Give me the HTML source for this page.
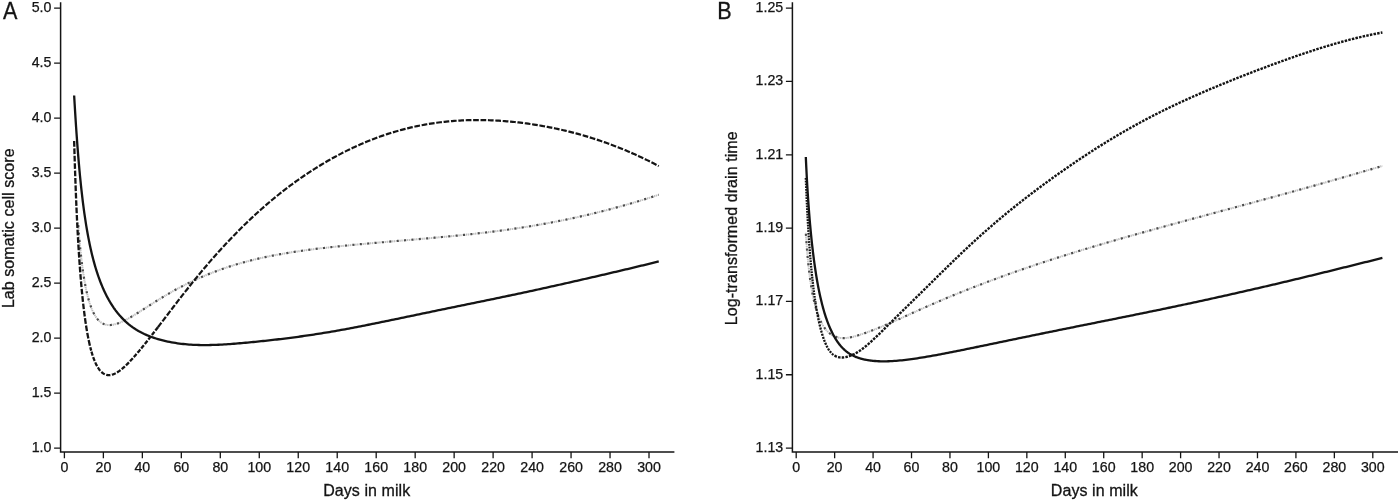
<!DOCTYPE html>
<html lang="en"><head><meta charset="utf-8"><title>Figure</title>
<style>html,body{margin:0;padding:0;background:#fff}body{width:1400px;height:501px;overflow:hidden}svg{display:block}text{stroke:#141414;stroke-width:.3px;font-family:"Liberation Sans",Arial,Helvetica,sans-serif;fill:#141414}.t{font-size:14.2px;stroke-width:.25px}.ax{font-size:16px;letter-spacing:.07px;stroke-width:.3px}.pl{font-size:24px}.l{stroke:#141414;fill:none}</style></head><body>
<svg width="1400" height="501" viewBox="0 0 1400 501">
<rect width="1400" height="501" fill="#fff"/>
<path class="l" stroke-width="1.5" d="M60.6 2.2 V452.1 H674.4"/>
<path class="l" stroke-width="1.3" d="M54.1 448.10 H60.6 M54.1 393.10 H60.6 M54.1 338.10 H60.6 M54.1 283.10 H60.6 M54.1 228.10 H60.6 M54.1 173.10 H60.6 M54.1 118.10 H60.6 M54.1 63.10 H60.6 M54.1 8.10 H60.6 M64.40 452.1 V458.2 M103.37 452.1 V458.2 M142.35 452.1 V458.2 M181.32 452.1 V458.2 M220.30 452.1 V458.2 M259.27 452.1 V458.2 M298.24 452.1 V458.2 M337.22 452.1 V458.2 M376.19 452.1 V458.2 M415.17 452.1 V458.2 M454.14 452.1 V458.2 M493.11 452.1 V458.2 M532.09 452.1 V458.2 M571.06 452.1 V458.2 M610.04 452.1 V458.2 M649.01 452.1 V458.2"/>
<text class="t" x="51.4" y="451.8" text-anchor="end">1.0</text>
<text class="t" x="51.4" y="396.8" text-anchor="end">1.5</text>
<text class="t" x="51.4" y="341.8" text-anchor="end">2.0</text>
<text class="t" x="51.4" y="286.8" text-anchor="end">2.5</text>
<text class="t" x="51.4" y="231.8" text-anchor="end">3.0</text>
<text class="t" x="51.4" y="176.8" text-anchor="end">3.5</text>
<text class="t" x="51.4" y="121.8" text-anchor="end">4.0</text>
<text class="t" x="51.4" y="66.8" text-anchor="end">4.5</text>
<text class="t" x="51.4" y="11.8" text-anchor="end">5.0</text>
<text class="t" x="64.4" y="472.3" text-anchor="middle">0</text>
<text class="t" x="103.4" y="472.3" text-anchor="middle">20</text>
<text class="t" x="142.3" y="472.3" text-anchor="middle">40</text>
<text class="t" x="181.3" y="472.3" text-anchor="middle">60</text>
<text class="t" x="220.3" y="472.3" text-anchor="middle">80</text>
<text class="t" x="259.3" y="472.3" text-anchor="middle">100</text>
<text class="t" x="298.2" y="472.3" text-anchor="middle">120</text>
<text class="t" x="337.2" y="472.3" text-anchor="middle">140</text>
<text class="t" x="376.2" y="472.3" text-anchor="middle">160</text>
<text class="t" x="415.2" y="472.3" text-anchor="middle">180</text>
<text class="t" x="454.1" y="472.3" text-anchor="middle">200</text>
<text class="t" x="493.1" y="472.3" text-anchor="middle">220</text>
<text class="t" x="532.1" y="472.3" text-anchor="middle">240</text>
<text class="t" x="571.1" y="472.3" text-anchor="middle">260</text>
<text class="t" x="610.0" y="472.3" text-anchor="middle">280</text>
<text class="t" x="649.0" y="472.3" text-anchor="middle">300</text>
<text class="ax" x="366.7" y="495.6" text-anchor="middle">Days in milk</text>
<text class="ax" transform="translate(14 228.2) rotate(-90)" text-anchor="middle">Lab somatic cell score</text>
<text class="pl" transform="translate(3.0 18.7) scale(0.9 1)">A</text>
<path class="l" stroke-width="1.5" d="M792.4 2.2 V452.1 H1398"/>
<path class="l" stroke-width="1.3" d="M785.9 448.10 H792.4 M785.9 374.77 H792.4 M785.9 301.44 H792.4 M785.9 228.11 H792.4 M785.9 154.78 H792.4 M785.9 81.45 H792.4 M785.9 8.12 H792.4 M796.20 452.1 V458.2 M834.64 452.1 V458.2 M873.08 452.1 V458.2 M911.52 452.1 V458.2 M949.96 452.1 V458.2 M988.40 452.1 V458.2 M1026.84 452.1 V458.2 M1065.28 452.1 V458.2 M1103.72 452.1 V458.2 M1142.16 452.1 V458.2 M1180.60 452.1 V458.2 M1219.04 452.1 V458.2 M1257.48 452.1 V458.2 M1295.92 452.1 V458.2 M1334.36 452.1 V458.2 M1372.80 452.1 V458.2"/>
<text class="t" x="783.2" y="451.8" text-anchor="end">1.13</text>
<text class="t" x="783.2" y="378.5" text-anchor="end">1.15</text>
<text class="t" x="783.2" y="305.1" text-anchor="end">1.17</text>
<text class="t" x="783.2" y="231.8" text-anchor="end">1.19</text>
<text class="t" x="783.2" y="158.5" text-anchor="end">1.21</text>
<text class="t" x="783.2" y="85.2" text-anchor="end">1.23</text>
<text class="t" x="783.2" y="11.8" text-anchor="end">1.25</text>
<text class="t" x="796.2" y="472.3" text-anchor="middle">0</text>
<text class="t" x="834.6" y="472.3" text-anchor="middle">20</text>
<text class="t" x="873.1" y="472.3" text-anchor="middle">40</text>
<text class="t" x="911.5" y="472.3" text-anchor="middle">60</text>
<text class="t" x="950.0" y="472.3" text-anchor="middle">80</text>
<text class="t" x="988.4" y="472.3" text-anchor="middle">100</text>
<text class="t" x="1026.8" y="472.3" text-anchor="middle">120</text>
<text class="t" x="1065.3" y="472.3" text-anchor="middle">140</text>
<text class="t" x="1103.7" y="472.3" text-anchor="middle">160</text>
<text class="t" x="1142.2" y="472.3" text-anchor="middle">180</text>
<text class="t" x="1180.6" y="472.3" text-anchor="middle">200</text>
<text class="t" x="1219.0" y="472.3" text-anchor="middle">220</text>
<text class="t" x="1257.5" y="472.3" text-anchor="middle">240</text>
<text class="t" x="1295.9" y="472.3" text-anchor="middle">260</text>
<text class="t" x="1334.4" y="472.3" text-anchor="middle">280</text>
<text class="t" x="1372.8" y="472.3" text-anchor="middle">300</text>
<text class="ax" x="1094.4" y="495.6" text-anchor="middle">Days in milk</text>
<text class="ax" transform="translate(737.4 228.3) rotate(-90)" text-anchor="middle">Log-transformed drain time</text>
<text class="pl" transform="translate(717.3 18.7) scale(0.9 1)">B</text>
<path d="M78.04 222.69 L78.53 229.15 L79.02 235.15 L79.50 240.73 L79.99 245.94 L80.48 250.80 L80.96 255.34 L81.45 259.59 L81.94 263.58 L82.43 267.32 L82.91 270.84 L83.40 274.15 L83.89 277.26 L84.37 280.19 L84.86 282.95 L85.35 285.56 L85.84 288.02 L86.32 290.34 L86.81 292.53 L87.30 294.60 L87.78 296.55 L88.27 298.40 L88.76 300.14 L89.25 301.79 L89.73 303.35 L90.22 304.82 L90.71 306.22 L91.19 307.53 L91.68 308.78 L92.17 309.95 L92.66 311.06 L93.14 312.10 L93.63 313.09 L94.12 314.02 L94.60 314.90 L95.09 315.72 L95.58 316.50 L96.07 317.23 L96.55 317.91 L97.04 318.56 L97.53 319.16 L98.02 319.72 L98.50 320.25 L98.99 320.74 L99.48 321.20 L99.96 321.62 L100.45 322.01 L100.94 322.38 L101.43 322.71 L101.91 323.02 L102.40 323.30 L102.89 323.56 L103.37 323.79 L103.86 324.00 L104.35 324.19 L104.84 324.36 L105.32 324.50 L105.81 324.63 L106.30 324.74 L106.78 324.83 L107.27 324.91 L107.76 324.96 L108.25 325.01 L108.73 325.03 L109.22 325.04 L109.71 325.04 L110.19 325.03 L110.68 325.00 L111.17 324.96 L111.66 324.91 L112.14 324.85 L112.63 324.77 L113.12 324.69 L113.60 324.59 L114.09 324.49 L114.58 324.38 L115.07 324.25 L115.55 324.12 L116.04 323.98 L116.53 323.84 L117.01 323.68 L117.50 323.52 L117.99 323.35 L118.48 323.17 L118.96 322.99 L119.45 322.80 L119.94 322.61 L120.43 322.41 L120.91 322.20 L121.40 321.99 L121.89 321.77 L122.37 321.55 L122.86 321.32 L123.35 321.09 L123.84 320.86 L124.32 320.62 L124.81 320.37 L125.30 320.12 L125.78 319.87 L126.27 319.62 L126.76 319.36 L127.25 319.10 L127.73 318.83 L128.22 318.56 L128.71 318.29 L129.19 318.02 L129.68 317.74 L130.17 317.46 L130.66 317.18 L131.14 316.90 L131.63 316.61 L132.12 316.33 L132.60 316.04 L133.09 315.74 L133.58 315.45 L134.07 315.16 L134.55 314.86 L135.04 314.56 L135.53 314.26 L136.01 313.96 L136.50 313.66 L136.99 313.35 L137.48 313.05 L137.96 312.74 L138.45 312.44 L138.94 312.13 L139.42 311.82 L139.91 311.52 L140.40 311.21 L140.89 310.90 L141.37 310.59 L141.86 310.28 L142.35 309.96 L144.30 308.72 L146.25 307.47 L148.19 306.22 L150.14 304.98 L152.09 303.74 L154.04 302.51 L155.99 301.29 L157.94 300.08 L159.89 298.88 L161.84 297.69 L163.78 296.52 L165.73 295.37 L167.68 294.23 L169.63 293.11 L171.58 292.00 L173.53 290.91 L175.48 289.83 L177.42 288.77 L179.37 287.73 L181.32 286.71 L183.27 285.70 L185.22 284.71 L187.17 283.74 L189.12 282.78 L191.07 281.84 L193.01 280.92 L194.96 280.02 L196.91 279.13 L198.86 278.25 L200.81 277.40 L202.76 276.56 L204.71 275.73 L206.66 274.92 L208.60 274.13 L210.55 273.35 L212.50 272.59 L214.45 271.84 L216.40 271.10 L218.35 270.39 L220.30 269.68 L222.24 269.00 L224.19 268.32 L226.14 267.66 L228.09 267.02 L230.04 266.39 L231.99 265.77 L233.94 265.16 L235.89 264.57 L237.83 263.99 L239.78 263.43 L241.73 262.88 L243.68 262.34 L245.63 261.81 L247.58 261.29 L249.53 260.79 L251.48 260.29 L253.42 259.81 L255.37 259.34 L257.32 258.88 L259.27 258.43 L261.22 257.99 L263.17 257.57 L265.12 257.15 L267.06 256.74 L269.01 256.34 L270.96 255.95 L272.91 255.57 L274.86 255.19 L276.81 254.83 L278.76 254.47 L280.71 254.12 L282.65 253.78 L284.60 253.45 L286.55 253.12 L288.50 252.80 L290.45 252.49 L292.40 252.18 L294.35 251.88 L296.30 251.59 L298.24 251.30 L300.19 251.02 L302.14 250.74 L304.09 250.47 L306.04 250.20 L307.99 249.94 L309.94 249.68 L311.88 249.43 L313.83 249.18 L315.78 248.94 L317.73 248.70 L319.68 248.47 L321.63 248.23 L323.58 248.01 L325.53 247.78 L327.47 247.56 L329.42 247.34 L331.37 247.13 L333.32 246.92 L335.27 246.71 L337.22 246.50 L339.17 246.30 L341.12 246.09 L343.06 245.89 L345.01 245.70 L346.96 245.50 L348.91 245.31 L350.86 245.12 L352.81 244.93 L354.76 244.74 L356.71 244.56 L358.65 244.37 L360.60 244.19 L362.55 244.01 L364.50 243.83 L366.45 243.65 L368.40 243.48 L370.35 243.30 L372.29 243.13 L374.24 242.95 L376.19 242.78 L378.14 242.61 L380.09 242.44 L382.04 242.27 L383.99 242.10 L385.94 241.93 L387.88 241.76 L389.83 241.60 L391.78 241.43 L393.73 241.26 L395.68 241.10 L397.63 240.93 L399.58 240.76 L401.53 240.60 L403.47 240.43 L405.42 240.27 L407.37 240.10 L409.32 239.93 L411.27 239.77 L413.22 239.60 L415.17 239.43 L417.11 239.26 L419.06 239.09 L421.01 238.92 L422.96 238.76 L424.91 238.58 L426.86 238.41 L428.81 238.24 L430.76 238.07 L432.70 237.89 L434.65 237.72 L436.60 237.54 L438.55 237.36 L440.50 237.18 L442.45 237.00 L444.40 236.82 L446.35 236.64 L448.29 236.45 L450.24 236.27 L452.19 236.08 L454.14 235.89 L456.09 235.70 L458.04 235.50 L459.99 235.31 L461.93 235.11 L463.88 234.91 L465.83 234.70 L467.78 234.50 L469.73 234.29 L471.68 234.08 L473.63 233.87 L475.58 233.65 L477.52 233.43 L479.47 233.21 L481.42 232.99 L483.37 232.76 L485.32 232.53 L487.27 232.29 L489.22 232.06 L491.17 231.82 L493.11 231.57 L495.06 231.33 L497.01 231.08 L498.96 230.82 L500.91 230.57 L502.86 230.30 L504.81 230.04 L506.75 229.77 L508.70 229.50 L510.65 229.22 L512.60 228.95 L514.55 228.66 L516.50 228.37 L518.45 228.08 L520.40 227.79 L522.34 227.49 L524.29 227.18 L526.24 226.88 L528.19 226.56 L530.14 226.25 L532.09 225.93 L534.04 225.60 L535.99 225.27 L537.93 224.94 L539.88 224.60 L541.83 224.25 L543.78 223.91 L545.73 223.55 L547.68 223.20 L549.63 222.83 L551.58 222.47 L553.52 222.09 L555.47 221.72 L557.42 221.34 L559.37 220.95 L561.32 220.56 L563.27 220.17 L565.22 219.77 L567.16 219.36 L569.11 218.95 L571.06 218.54 L573.01 218.12 L574.96 217.70 L576.91 217.27 L578.86 216.83 L580.81 216.40 L582.75 215.95 L584.70 215.51 L586.65 215.05 L588.60 214.60 L590.55 214.13 L592.50 213.67 L594.45 213.19 L596.40 212.72 L598.34 212.23 L600.29 211.75 L602.24 211.26 L604.19 210.76 L606.14 210.26 L608.09 209.75 L610.04 209.24 L611.98 208.72 L613.93 208.20 L615.88 207.67 L617.83 207.14 L619.78 206.60 L621.73 206.06 L623.68 205.51 L625.63 204.96 L627.57 204.40 L629.52 203.84 L631.47 203.27 L633.42 202.69 L635.37 202.11 L637.32 201.53 L639.27 200.94 L641.22 200.34 L643.16 199.74 L645.11 199.14 L647.06 198.53 L649.01 197.91 L650.96 197.29 L652.91 196.66 L654.86 196.03 L656.80 195.39 L658.75 194.74" fill="none" stroke="#e9e9e9" stroke-width="1.8"/>
<path d="M78.04 222.69 L78.53 229.15 L79.02 235.15 L79.50 240.73 L79.99 245.94 L80.48 250.80 L80.96 255.34 L81.45 259.59 L81.94 263.58 L82.43 267.32 L82.91 270.84 L83.40 274.15 L83.89 277.26 L84.37 280.19 L84.86 282.95 L85.35 285.56 L85.84 288.02 L86.32 290.34 L86.81 292.53 L87.30 294.60 L87.78 296.55 L88.27 298.40 L88.76 300.14 L89.25 301.79 L89.73 303.35 L90.22 304.82 L90.71 306.22 L91.19 307.53 L91.68 308.78 L92.17 309.95 L92.66 311.06 L93.14 312.10 L93.63 313.09 L94.12 314.02 L94.60 314.90 L95.09 315.72 L95.58 316.50 L96.07 317.23 L96.55 317.91 L97.04 318.56 L97.53 319.16 L98.02 319.72 L98.50 320.25 L98.99 320.74 L99.48 321.20 L99.96 321.62 L100.45 322.01 L100.94 322.38 L101.43 322.71 L101.91 323.02 L102.40 323.30 L102.89 323.56 L103.37 323.79 L103.86 324.00 L104.35 324.19 L104.84 324.36 L105.32 324.50 L105.81 324.63 L106.30 324.74 L106.78 324.83 L107.27 324.91 L107.76 324.96 L108.25 325.01 L108.73 325.03 L109.22 325.04 L109.71 325.04 L110.19 325.03 L110.68 325.00 L111.17 324.96 L111.66 324.91 L112.14 324.85 L112.63 324.77 L113.12 324.69 L113.60 324.59 L114.09 324.49 L114.58 324.38 L115.07 324.25 L115.55 324.12 L116.04 323.98 L116.53 323.84 L117.01 323.68 L117.50 323.52 L117.99 323.35 L118.48 323.17 L118.96 322.99 L119.45 322.80 L119.94 322.61 L120.43 322.41 L120.91 322.20 L121.40 321.99 L121.89 321.77 L122.37 321.55 L122.86 321.32 L123.35 321.09 L123.84 320.86 L124.32 320.62 L124.81 320.37 L125.30 320.12 L125.78 319.87 L126.27 319.62 L126.76 319.36 L127.25 319.10 L127.73 318.83 L128.22 318.56 L128.71 318.29 L129.19 318.02 L129.68 317.74 L130.17 317.46 L130.66 317.18 L131.14 316.90 L131.63 316.61 L132.12 316.33 L132.60 316.04 L133.09 315.74 L133.58 315.45 L134.07 315.16 L134.55 314.86 L135.04 314.56 L135.53 314.26 L136.01 313.96 L136.50 313.66 L136.99 313.35 L137.48 313.05 L137.96 312.74 L138.45 312.44 L138.94 312.13 L139.42 311.82 L139.91 311.52 L140.40 311.21 L140.89 310.90 L141.37 310.59 L141.86 310.28 L142.35 309.96 L144.30 308.72 L146.25 307.47 L148.19 306.22 L150.14 304.98 L152.09 303.74 L154.04 302.51 L155.99 301.29 L157.94 300.08 L159.89 298.88 L161.84 297.69 L163.78 296.52 L165.73 295.37 L167.68 294.23 L169.63 293.11 L171.58 292.00 L173.53 290.91 L175.48 289.83 L177.42 288.77 L179.37 287.73 L181.32 286.71 L183.27 285.70 L185.22 284.71 L187.17 283.74 L189.12 282.78 L191.07 281.84 L193.01 280.92 L194.96 280.02 L196.91 279.13 L198.86 278.25 L200.81 277.40 L202.76 276.56 L204.71 275.73 L206.66 274.92 L208.60 274.13 L210.55 273.35 L212.50 272.59 L214.45 271.84 L216.40 271.10 L218.35 270.39 L220.30 269.68 L222.24 269.00 L224.19 268.32 L226.14 267.66 L228.09 267.02 L230.04 266.39 L231.99 265.77 L233.94 265.16 L235.89 264.57 L237.83 263.99 L239.78 263.43 L241.73 262.88 L243.68 262.34 L245.63 261.81 L247.58 261.29 L249.53 260.79 L251.48 260.29 L253.42 259.81 L255.37 259.34 L257.32 258.88 L259.27 258.43 L261.22 257.99 L263.17 257.57 L265.12 257.15 L267.06 256.74 L269.01 256.34 L270.96 255.95 L272.91 255.57 L274.86 255.19 L276.81 254.83 L278.76 254.47 L280.71 254.12 L282.65 253.78 L284.60 253.45 L286.55 253.12 L288.50 252.80 L290.45 252.49 L292.40 252.18 L294.35 251.88 L296.30 251.59 L298.24 251.30 L300.19 251.02 L302.14 250.74 L304.09 250.47 L306.04 250.20 L307.99 249.94 L309.94 249.68 L311.88 249.43 L313.83 249.18 L315.78 248.94 L317.73 248.70 L319.68 248.47 L321.63 248.23 L323.58 248.01 L325.53 247.78 L327.47 247.56 L329.42 247.34 L331.37 247.13 L333.32 246.92 L335.27 246.71 L337.22 246.50 L339.17 246.30 L341.12 246.09 L343.06 245.89 L345.01 245.70 L346.96 245.50 L348.91 245.31 L350.86 245.12 L352.81 244.93 L354.76 244.74 L356.71 244.56 L358.65 244.37 L360.60 244.19 L362.55 244.01 L364.50 243.83 L366.45 243.65 L368.40 243.48 L370.35 243.30 L372.29 243.13 L374.24 242.95 L376.19 242.78 L378.14 242.61 L380.09 242.44 L382.04 242.27 L383.99 242.10 L385.94 241.93 L387.88 241.76 L389.83 241.60 L391.78 241.43 L393.73 241.26 L395.68 241.10 L397.63 240.93 L399.58 240.76 L401.53 240.60 L403.47 240.43 L405.42 240.27 L407.37 240.10 L409.32 239.93 L411.27 239.77 L413.22 239.60 L415.17 239.43 L417.11 239.26 L419.06 239.09 L421.01 238.92 L422.96 238.76 L424.91 238.58 L426.86 238.41 L428.81 238.24 L430.76 238.07 L432.70 237.89 L434.65 237.72 L436.60 237.54 L438.55 237.36 L440.50 237.18 L442.45 237.00 L444.40 236.82 L446.35 236.64 L448.29 236.45 L450.24 236.27 L452.19 236.08 L454.14 235.89 L456.09 235.70 L458.04 235.50 L459.99 235.31 L461.93 235.11 L463.88 234.91 L465.83 234.70 L467.78 234.50 L469.73 234.29 L471.68 234.08 L473.63 233.87 L475.58 233.65 L477.52 233.43 L479.47 233.21 L481.42 232.99 L483.37 232.76 L485.32 232.53 L487.27 232.29 L489.22 232.06 L491.17 231.82 L493.11 231.57 L495.06 231.33 L497.01 231.08 L498.96 230.82 L500.91 230.57 L502.86 230.30 L504.81 230.04 L506.75 229.77 L508.70 229.50 L510.65 229.22 L512.60 228.95 L514.55 228.66 L516.50 228.37 L518.45 228.08 L520.40 227.79 L522.34 227.49 L524.29 227.18 L526.24 226.88 L528.19 226.56 L530.14 226.25 L532.09 225.93 L534.04 225.60 L535.99 225.27 L537.93 224.94 L539.88 224.60 L541.83 224.25 L543.78 223.91 L545.73 223.55 L547.68 223.20 L549.63 222.83 L551.58 222.47 L553.52 222.09 L555.47 221.72 L557.42 221.34 L559.37 220.95 L561.32 220.56 L563.27 220.17 L565.22 219.77 L567.16 219.36 L569.11 218.95 L571.06 218.54 L573.01 218.12 L574.96 217.70 L576.91 217.27 L578.86 216.83 L580.81 216.40 L582.75 215.95 L584.70 215.51 L586.65 215.05 L588.60 214.60 L590.55 214.13 L592.50 213.67 L594.45 213.19 L596.40 212.72 L598.34 212.23 L600.29 211.75 L602.24 211.26 L604.19 210.76 L606.14 210.26 L608.09 209.75 L610.04 209.24 L611.98 208.72 L613.93 208.20 L615.88 207.67 L617.83 207.14 L619.78 206.60 L621.73 206.06 L623.68 205.51 L625.63 204.96 L627.57 204.40 L629.52 203.84 L631.47 203.27 L633.42 202.69 L635.37 202.11 L637.32 201.53 L639.27 200.94 L641.22 200.34 L643.16 199.74 L645.11 199.14 L647.06 198.53 L649.01 197.91 L650.96 197.29 L652.91 196.66 L654.86 196.03 L656.80 195.39 L658.75 194.74" fill="none" stroke="#b4b4b4" stroke-width="2" stroke-dasharray="0.8 1.1 0.8 4.7" stroke-dashoffset="-5.60"/>
<path d="M78.04 222.69 L78.53 229.15 L79.02 235.15 L79.50 240.73 L79.99 245.94 L80.48 250.80 L80.96 255.34 L81.45 259.59 L81.94 263.58 L82.43 267.32 L82.91 270.84 L83.40 274.15 L83.89 277.26 L84.37 280.19 L84.86 282.95 L85.35 285.56 L85.84 288.02 L86.32 290.34 L86.81 292.53 L87.30 294.60 L87.78 296.55 L88.27 298.40 L88.76 300.14 L89.25 301.79 L89.73 303.35 L90.22 304.82 L90.71 306.22 L91.19 307.53 L91.68 308.78 L92.17 309.95 L92.66 311.06 L93.14 312.10 L93.63 313.09 L94.12 314.02 L94.60 314.90 L95.09 315.72 L95.58 316.50 L96.07 317.23 L96.55 317.91 L97.04 318.56 L97.53 319.16 L98.02 319.72 L98.50 320.25 L98.99 320.74 L99.48 321.20 L99.96 321.62 L100.45 322.01 L100.94 322.38 L101.43 322.71 L101.91 323.02 L102.40 323.30 L102.89 323.56 L103.37 323.79 L103.86 324.00 L104.35 324.19 L104.84 324.36 L105.32 324.50 L105.81 324.63 L106.30 324.74 L106.78 324.83 L107.27 324.91 L107.76 324.96 L108.25 325.01 L108.73 325.03 L109.22 325.04 L109.71 325.04 L110.19 325.03 L110.68 325.00 L111.17 324.96 L111.66 324.91 L112.14 324.85 L112.63 324.77 L113.12 324.69 L113.60 324.59 L114.09 324.49 L114.58 324.38 L115.07 324.25 L115.55 324.12 L116.04 323.98 L116.53 323.84 L117.01 323.68 L117.50 323.52 L117.99 323.35 L118.48 323.17 L118.96 322.99 L119.45 322.80 L119.94 322.61 L120.43 322.41 L120.91 322.20 L121.40 321.99 L121.89 321.77 L122.37 321.55 L122.86 321.32 L123.35 321.09 L123.84 320.86 L124.32 320.62 L124.81 320.37 L125.30 320.12 L125.78 319.87 L126.27 319.62 L126.76 319.36 L127.25 319.10 L127.73 318.83 L128.22 318.56 L128.71 318.29 L129.19 318.02 L129.68 317.74 L130.17 317.46 L130.66 317.18 L131.14 316.90 L131.63 316.61 L132.12 316.33 L132.60 316.04 L133.09 315.74 L133.58 315.45 L134.07 315.16 L134.55 314.86 L135.04 314.56 L135.53 314.26 L136.01 313.96 L136.50 313.66 L136.99 313.35 L137.48 313.05 L137.96 312.74 L138.45 312.44 L138.94 312.13 L139.42 311.82 L139.91 311.52 L140.40 311.21 L140.89 310.90 L141.37 310.59 L141.86 310.28 L142.35 309.96 L144.30 308.72 L146.25 307.47 L148.19 306.22 L150.14 304.98 L152.09 303.74 L154.04 302.51 L155.99 301.29 L157.94 300.08 L159.89 298.88 L161.84 297.69 L163.78 296.52 L165.73 295.37 L167.68 294.23 L169.63 293.11 L171.58 292.00 L173.53 290.91 L175.48 289.83 L177.42 288.77 L179.37 287.73 L181.32 286.71 L183.27 285.70 L185.22 284.71 L187.17 283.74 L189.12 282.78 L191.07 281.84 L193.01 280.92 L194.96 280.02 L196.91 279.13 L198.86 278.25 L200.81 277.40 L202.76 276.56 L204.71 275.73 L206.66 274.92 L208.60 274.13 L210.55 273.35 L212.50 272.59 L214.45 271.84 L216.40 271.10 L218.35 270.39 L220.30 269.68 L222.24 269.00 L224.19 268.32 L226.14 267.66 L228.09 267.02 L230.04 266.39 L231.99 265.77 L233.94 265.16 L235.89 264.57 L237.83 263.99 L239.78 263.43 L241.73 262.88 L243.68 262.34 L245.63 261.81 L247.58 261.29 L249.53 260.79 L251.48 260.29 L253.42 259.81 L255.37 259.34 L257.32 258.88 L259.27 258.43 L261.22 257.99 L263.17 257.57 L265.12 257.15 L267.06 256.74 L269.01 256.34 L270.96 255.95 L272.91 255.57 L274.86 255.19 L276.81 254.83 L278.76 254.47 L280.71 254.12 L282.65 253.78 L284.60 253.45 L286.55 253.12 L288.50 252.80 L290.45 252.49 L292.40 252.18 L294.35 251.88 L296.30 251.59 L298.24 251.30 L300.19 251.02 L302.14 250.74 L304.09 250.47 L306.04 250.20 L307.99 249.94 L309.94 249.68 L311.88 249.43 L313.83 249.18 L315.78 248.94 L317.73 248.70 L319.68 248.47 L321.63 248.23 L323.58 248.01 L325.53 247.78 L327.47 247.56 L329.42 247.34 L331.37 247.13 L333.32 246.92 L335.27 246.71 L337.22 246.50 L339.17 246.30 L341.12 246.09 L343.06 245.89 L345.01 245.70 L346.96 245.50 L348.91 245.31 L350.86 245.12 L352.81 244.93 L354.76 244.74 L356.71 244.56 L358.65 244.37 L360.60 244.19 L362.55 244.01 L364.50 243.83 L366.45 243.65 L368.40 243.48 L370.35 243.30 L372.29 243.13 L374.24 242.95 L376.19 242.78 L378.14 242.61 L380.09 242.44 L382.04 242.27 L383.99 242.10 L385.94 241.93 L387.88 241.76 L389.83 241.60 L391.78 241.43 L393.73 241.26 L395.68 241.10 L397.63 240.93 L399.58 240.76 L401.53 240.60 L403.47 240.43 L405.42 240.27 L407.37 240.10 L409.32 239.93 L411.27 239.77 L413.22 239.60 L415.17 239.43 L417.11 239.26 L419.06 239.09 L421.01 238.92 L422.96 238.76 L424.91 238.58 L426.86 238.41 L428.81 238.24 L430.76 238.07 L432.70 237.89 L434.65 237.72 L436.60 237.54 L438.55 237.36 L440.50 237.18 L442.45 237.00 L444.40 236.82 L446.35 236.64 L448.29 236.45 L450.24 236.27 L452.19 236.08 L454.14 235.89 L456.09 235.70 L458.04 235.50 L459.99 235.31 L461.93 235.11 L463.88 234.91 L465.83 234.70 L467.78 234.50 L469.73 234.29 L471.68 234.08 L473.63 233.87 L475.58 233.65 L477.52 233.43 L479.47 233.21 L481.42 232.99 L483.37 232.76 L485.32 232.53 L487.27 232.29 L489.22 232.06 L491.17 231.82 L493.11 231.57 L495.06 231.33 L497.01 231.08 L498.96 230.82 L500.91 230.57 L502.86 230.30 L504.81 230.04 L506.75 229.77 L508.70 229.50 L510.65 229.22 L512.60 228.95 L514.55 228.66 L516.50 228.37 L518.45 228.08 L520.40 227.79 L522.34 227.49 L524.29 227.18 L526.24 226.88 L528.19 226.56 L530.14 226.25 L532.09 225.93 L534.04 225.60 L535.99 225.27 L537.93 224.94 L539.88 224.60 L541.83 224.25 L543.78 223.91 L545.73 223.55 L547.68 223.20 L549.63 222.83 L551.58 222.47 L553.52 222.09 L555.47 221.72 L557.42 221.34 L559.37 220.95 L561.32 220.56 L563.27 220.17 L565.22 219.77 L567.16 219.36 L569.11 218.95 L571.06 218.54 L573.01 218.12 L574.96 217.70 L576.91 217.27 L578.86 216.83 L580.81 216.40 L582.75 215.95 L584.70 215.51 L586.65 215.05 L588.60 214.60 L590.55 214.13 L592.50 213.67 L594.45 213.19 L596.40 212.72 L598.34 212.23 L600.29 211.75 L602.24 211.26 L604.19 210.76 L606.14 210.26 L608.09 209.75 L610.04 209.24 L611.98 208.72 L613.93 208.20 L615.88 207.67 L617.83 207.14 L619.78 206.60 L621.73 206.06 L623.68 205.51 L625.63 204.96 L627.57 204.40 L629.52 203.84 L631.47 203.27 L633.42 202.69 L635.37 202.11 L637.32 201.53 L639.27 200.94 L641.22 200.34 L643.16 199.74 L645.11 199.14 L647.06 198.53 L649.01 197.91 L650.96 197.29 L652.91 196.66 L654.86 196.03 L656.80 195.39 L658.75 194.74" fill="none" stroke="#4c4c4c" stroke-width="2.2" stroke-dasharray="2.1 5.3" stroke-dashoffset="-2.50"/>
<path class="l" d="M74.14 95.50 L74.63 103.80 L75.12 111.83 L75.61 119.56 L76.09 126.99 L76.58 134.11 L77.07 140.91 L77.55 147.41 L78.04 153.62 L78.53 159.55 L79.02 165.20 L79.50 170.60 L79.99 175.76 L80.48 180.69 L80.96 185.41 L81.45 189.92 L81.94 194.24 L82.43 198.38 L82.91 202.35 L83.40 206.15 L83.89 209.81 L84.37 213.32 L84.86 216.70 L85.35 219.94 L85.84 223.07 L86.32 226.08 L86.81 228.99 L87.30 231.79 L87.78 234.49 L88.27 237.10 L88.76 239.62 L89.25 242.06 L89.73 244.42 L90.22 246.71 L90.71 248.92 L91.19 251.07 L91.68 253.14 L92.17 255.16 L92.66 257.12 L93.14 259.02 L93.63 260.86 L94.12 262.65 L94.60 264.39 L95.09 266.09 L95.58 267.74 L96.07 269.34 L96.55 270.90 L97.04 272.42 L97.53 273.90 L98.02 275.34 L98.50 276.75 L98.99 278.12 L99.48 279.46 L99.96 280.76 L100.45 282.04 L100.94 283.28 L101.43 284.49 L101.91 285.68 L102.40 286.84 L102.89 287.97 L103.37 289.08 L103.86 290.16 L104.35 291.21 L104.84 292.25 L105.32 293.26 L105.81 294.25 L106.30 295.22 L106.78 296.17 L107.27 297.09 L107.76 298.00 L108.25 298.89 L108.73 299.77 L109.22 300.62 L109.71 301.46 L110.19 302.28 L110.68 303.08 L111.17 303.87 L111.66 304.64 L112.14 305.40 L112.63 306.14 L113.12 306.87 L113.60 307.59 L114.09 308.29 L114.58 308.98 L115.07 309.65 L115.55 310.32 L116.04 310.97 L116.53 311.60 L117.01 312.23 L117.50 312.85 L117.99 313.45 L118.48 314.04 L118.96 314.62 L119.45 315.19 L119.94 315.75 L120.43 316.30 L120.91 316.84 L121.40 317.37 L121.89 317.90 L122.37 318.41 L122.86 318.91 L123.35 319.40 L123.84 319.89 L124.32 320.36 L124.81 320.83 L125.30 321.29 L125.78 321.74 L126.27 322.18 L126.76 322.61 L127.25 323.04 L127.73 323.46 L128.22 323.87 L128.71 324.27 L129.19 324.67 L129.68 325.06 L130.17 325.44 L130.66 325.81 L131.14 326.18 L131.63 326.54 L132.12 326.90 L132.60 327.25 L133.09 327.59 L133.58 327.93 L134.07 328.26 L134.55 328.58 L135.04 328.90 L135.53 329.21 L136.01 329.52 L136.50 329.82 L136.99 330.12 L137.48 330.41 L137.96 330.69 L138.45 330.98 L138.94 331.25 L139.42 331.52 L139.91 331.79 L140.40 332.05 L140.89 332.31 L141.37 332.56 L141.86 332.81 L142.35 333.06 L144.30 334.00 L146.25 334.87 L148.19 335.69 L150.14 336.46 L152.09 337.18 L154.04 337.85 L155.99 338.48 L157.94 339.07 L159.89 339.63 L161.84 340.15 L163.78 340.64 L165.73 341.10 L167.68 341.53 L169.63 341.93 L171.58 342.31 L173.53 342.65 L175.48 342.97 L177.42 343.27 L179.37 343.54 L181.32 343.79 L183.27 344.01 L185.22 344.21 L187.17 344.38 L189.12 344.54 L191.07 344.68 L193.01 344.79 L194.96 344.89 L196.91 344.96 L198.86 345.02 L200.81 345.06 L202.76 345.08 L204.71 345.09 L206.66 345.08 L208.60 345.05 L210.55 345.01 L212.50 344.96 L214.45 344.90 L216.40 344.83 L218.35 344.74 L220.30 344.65 L222.24 344.54 L224.19 344.43 L226.14 344.31 L228.09 344.18 L230.04 344.04 L231.99 343.90 L233.94 343.75 L235.89 343.60 L237.83 343.44 L239.78 343.27 L241.73 343.11 L243.68 342.93 L245.63 342.75 L247.58 342.57 L249.53 342.39 L251.48 342.20 L253.42 342.00 L255.37 341.81 L257.32 341.61 L259.27 341.41 L261.22 341.21 L263.17 341.00 L265.12 340.80 L267.06 340.58 L269.01 340.37 L270.96 340.16 L272.91 339.94 L274.86 339.71 L276.81 339.49 L278.76 339.26 L280.71 339.03 L282.65 338.79 L284.60 338.55 L286.55 338.31 L288.50 338.07 L290.45 337.82 L292.40 337.56 L294.35 337.31 L296.30 337.05 L298.24 336.78 L300.19 336.51 L302.14 336.24 L304.09 335.97 L306.04 335.69 L307.99 335.40 L309.94 335.12 L311.88 334.82 L313.83 334.53 L315.78 334.23 L317.73 333.93 L319.68 333.62 L321.63 333.31 L323.58 332.99 L325.53 332.67 L327.47 332.35 L329.42 332.02 L331.37 331.69 L333.32 331.35 L335.27 331.02 L337.22 330.67 L339.17 330.32 L341.12 329.97 L343.06 329.62 L345.01 329.26 L346.96 328.90 L348.91 328.54 L350.86 328.17 L352.81 327.80 L354.76 327.42 L356.71 327.05 L358.65 326.67 L360.60 326.29 L362.55 325.91 L364.50 325.52 L366.45 325.14 L368.40 324.75 L370.35 324.36 L372.29 323.97 L374.24 323.57 L376.19 323.18 L378.14 322.78 L380.09 322.38 L382.04 321.98 L383.99 321.58 L385.94 321.18 L387.88 320.78 L389.83 320.38 L391.78 319.97 L393.73 319.57 L395.68 319.17 L397.63 318.76 L399.58 318.35 L401.53 317.95 L403.47 317.54 L405.42 317.14 L407.37 316.73 L409.32 316.32 L411.27 315.91 L413.22 315.51 L415.17 315.10 L417.11 314.69 L419.06 314.29 L421.01 313.88 L422.96 313.47 L424.91 313.07 L426.86 312.66 L428.81 312.26 L430.76 311.85 L432.70 311.45 L434.65 311.04 L436.60 310.64 L438.55 310.24 L440.50 309.84 L442.45 309.43 L444.40 309.03 L446.35 308.63 L448.29 308.23 L450.24 307.83 L452.19 307.43 L454.14 307.03 L456.09 306.63 L458.04 306.23 L459.99 305.83 L461.93 305.43 L463.88 305.03 L465.83 304.63 L467.78 304.23 L469.73 303.83 L471.68 303.43 L473.63 303.03 L475.58 302.63 L477.52 302.23 L479.47 301.83 L481.42 301.43 L483.37 301.02 L485.32 300.62 L487.27 300.22 L489.22 299.82 L491.17 299.41 L493.11 299.01 L495.06 298.60 L497.01 298.20 L498.96 297.79 L500.91 297.38 L502.86 296.98 L504.81 296.57 L506.75 296.16 L508.70 295.75 L510.65 295.34 L512.60 294.93 L514.55 294.52 L516.50 294.10 L518.45 293.69 L520.40 293.28 L522.34 292.86 L524.29 292.44 L526.24 292.03 L528.19 291.61 L530.14 291.19 L532.09 290.77 L534.04 290.35 L535.99 289.92 L537.93 289.50 L539.88 289.07 L541.83 288.65 L543.78 288.22 L545.73 287.79 L547.68 287.36 L549.63 286.93 L551.58 286.49 L553.52 286.06 L555.47 285.62 L557.42 285.19 L559.37 284.75 L561.32 284.31 L563.27 283.88 L565.22 283.44 L567.16 283.00 L569.11 282.56 L571.06 282.11 L573.01 281.67 L574.96 281.23 L576.91 280.79 L578.86 280.34 L580.81 279.90 L582.75 279.45 L584.70 279.00 L586.65 278.56 L588.60 278.11 L590.55 277.66 L592.50 277.21 L594.45 276.76 L596.40 276.31 L598.34 275.86 L600.29 275.41 L602.24 274.96 L604.19 274.51 L606.14 274.05 L608.09 273.60 L610.04 273.15 L611.98 272.69 L613.93 272.23 L615.88 271.78 L617.83 271.32 L619.78 270.86 L621.73 270.40 L623.68 269.94 L625.63 269.48 L627.57 269.01 L629.52 268.55 L631.47 268.08 L633.42 267.62 L635.37 267.15 L637.32 266.68 L639.27 266.21 L641.22 265.74 L643.16 265.27 L645.11 264.79 L647.06 264.31 L649.01 263.84 L650.96 263.36 L652.91 262.87 L654.86 262.39 L656.80 261.91 L658.75 261.42" stroke-width="2.3"/>
<path class="l" d="M74.14 141.01 L74.63 157.72 L75.12 172.77 L75.61 186.39 L76.09 198.79 L76.58 210.14 L77.07 220.56 L77.55 230.18 L78.04 239.08 L78.53 247.34 L79.02 255.03 L79.50 262.20 L79.99 268.90 L80.48 275.18 L80.96 281.07 L81.45 286.60 L81.94 291.80 L82.43 296.70 L82.91 301.32 L83.40 305.68 L83.89 309.79 L84.37 313.68 L84.86 317.35 L85.35 320.83 L85.84 324.12 L86.32 327.24 L86.81 330.19 L87.30 332.98 L87.78 335.63 L88.27 338.14 L88.76 340.52 L89.25 342.77 L89.73 344.91 L90.22 346.93 L90.71 348.85 L91.19 350.66" stroke-width="2.3" stroke-dasharray="5.7 1.7"/>
<path class="l" d="M91.19 350.66 L91.68 352.38 L92.17 354.00 L92.66 355.54 L93.14 357.00 L93.63 358.37 L94.12 359.67 L94.60 360.90 L95.09 362.05 L95.58 363.14 L96.07 364.17 L96.55 365.14 L97.04 366.04 L97.53 366.90 L98.02 367.69 L98.50 368.44 L98.99 369.14 L99.48 369.79 L99.96 370.39 L100.45 370.95 L100.94 371.47 L101.43 371.95 L101.91 372.39 L102.40 372.79 L102.89 373.16 L103.37 373.49 L103.86 373.78 L104.35 374.05 L104.84 374.28 L105.32 374.48 L105.81 374.65 L106.30 374.80 L106.78 374.91 L107.27 375.00 L107.76 375.07 L108.25 375.11 L108.73 375.13 L109.22 375.12 L109.71 375.09 L110.19 375.04 L110.68 374.97 L111.17 374.88 L111.66 374.77 L112.14 374.64 L112.63 374.50 L113.12 374.33 L113.60 374.15 L114.09 373.95 L114.58 373.74 L115.07 373.51 L115.55 373.26 L116.04 373.00 L116.53 372.73 L117.01 372.45 L117.50 372.15 L117.99 371.84 L118.48 371.52 L118.96 371.18 L119.45 370.84 L119.94 370.48 L120.43 370.11 L120.91 369.74 L121.40 369.35 L121.89 368.96 L122.37 368.55 L122.86 368.14 L123.35 367.72 L123.84 367.29 L124.32 366.85 L124.81 366.41 L125.30 365.95 L125.78 365.50 L126.27 365.03 L126.76 364.56 L127.25 364.08 L127.73 363.59 L128.22 363.10 L128.71 362.61 L129.19 362.11 L129.68 361.60 L130.17 361.09 L130.66 360.57 L131.14 360.05 L131.63 359.53 L132.12 359.00 L132.60 358.46 L133.09 357.92 L133.58 357.38 L134.07 356.84 L134.55 356.29 L135.04 355.73 L135.53 355.18 L136.01 354.62 L136.50 354.06 L136.99 353.49 L137.48 352.92 L137.96 352.35 L138.45 351.78 L138.94 351.20 L139.42 350.62 L139.91 350.03 L140.40 349.45 L140.89 348.86 L141.37 348.27 L141.86 347.68 L142.35 347.08 L144.30 344.69 L146.25 342.26 L148.19 339.80 L150.14 337.32 L152.09 334.83 L154.04 332.31 L155.99 329.79 L157.94 327.25" stroke-width="2.3" stroke-dasharray="4.2 1.5" stroke-dashoffset="-1.0"/>
<path class="l" d="M157.94 327.25 L159.89 324.70 L161.84 322.14 L163.78 319.58 L165.73 317.02 L167.68 314.46 L169.63 311.89 L171.58 309.34 L173.53 306.78 L175.48 304.24 L177.42 301.70 L179.37 299.18 L181.32 296.66 L183.27 294.16 L185.22 291.68 L187.17 289.20 L189.12 286.74 L191.07 284.30 L193.01 281.88 L194.96 279.47 L196.91 277.08 L198.86 274.71 L200.81 272.36 L202.76 270.03 L204.71 267.71 L206.66 265.42 L208.60 263.15 L210.55 260.89 L212.50 258.66 L214.45 256.44 L216.40 254.25 L218.35 252.08 L220.30 249.92 L222.24 247.79 L224.19 245.67 L226.14 243.58 L228.09 241.51 L230.04 239.45 L231.99 237.42 L233.94 235.40 L235.89 233.41 L237.83 231.43 L239.78 229.48 L241.73 227.55 L243.68 225.63 L245.63 223.74 L247.58 221.86 L249.53 220.01 L251.48 218.17 L253.42 216.35 L255.37 214.56 L257.32 212.78 L259.27 211.02 L261.22 209.28 L263.17 207.56 L265.12 205.86 L267.06 204.18 L269.01 202.52 L270.96 200.88 L272.91 199.25 L274.86 197.65 L276.81 196.06 L278.76 194.49 L280.71 192.94 L282.65 191.41 L284.60 189.90 L286.55 188.40 L288.50 186.93 L290.45 185.47 L292.40 184.03 L294.35 182.60 L296.30 181.20 L298.24 179.81 L300.19 178.44 L302.14 177.09 L304.09 175.75 L306.04 174.44 L307.99 173.14 L309.94 171.85 L311.88 170.59 L313.83 169.34 L315.78 168.11 L317.73 166.89 L319.68 165.69 L321.63 164.51 L323.58 163.35 L325.53 162.20 L327.47 161.07 L329.42 159.95 L331.37 158.85 L333.32 157.77 L335.27 156.70 L337.22 155.65 L339.17 154.62 L341.12 153.60 L343.06 152.59 L345.01 151.61 L346.96 150.64 L348.91 149.68 L350.86 148.74 L352.81 147.82 L354.76 146.91 L356.71 146.02 L358.65 145.15 L360.60 144.29 L362.55 143.44 L364.50 142.62 L366.45 141.81 L368.40 141.01 L370.35 140.23 L372.29 139.47 L374.24 138.72 L376.19 137.98 L378.14 137.27 L380.09 136.56 L382.04 135.88 L383.99 135.21 L385.94 134.55 L387.88 133.91 L389.83 133.29 L391.78 132.68 L393.73 132.08 L395.68 131.50 L397.63 130.94 L399.58 130.39 L401.53 129.86 L403.47 129.34 L405.42 128.83 L407.37 128.34 L409.32 127.87 L411.27 127.41 L413.22 126.97 L415.17 126.54 L417.11 126.12 L419.06 125.72 L421.01 125.33 L422.96 124.96 L424.91 124.60 L426.86 124.26 L428.81 123.93 L430.76 123.62 L432.70 123.31 L434.65 123.03 L436.60 122.76 L438.55 122.50 L440.50 122.25 L442.45 122.02 L444.40 121.80 L446.35 121.60 L448.29 121.41 L450.24 121.23 L452.19 121.06 L454.14 120.91 L456.09 120.77 L458.04 120.65 L459.99 120.53 L461.93 120.43 L463.88 120.34 L465.83 120.26 L467.78 120.20 L469.73 120.14 L471.68 120.10 L473.63 120.07 L475.58 120.06 L477.52 120.05 L479.47 120.05 L481.42 120.07 L483.37 120.10 L485.32 120.14 L487.27 120.19 L489.22 120.25 L491.17 120.32 L493.11 120.41 L495.06 120.50 L497.01 120.61 L498.96 120.72 L500.91 120.85 L502.86 120.99 L504.81 121.14 L506.75 121.29 L508.70 121.46 L510.65 121.64 L512.60 121.83 L514.55 122.03 L516.50 122.24 L518.45 122.46 L520.40 122.69 L522.34 122.93 L524.29 123.18 L526.24 123.44 L528.19 123.71 L530.14 123.99 L532.09 124.28 L534.04 124.58 L535.99 124.88 L537.93 125.20 L539.88 125.53 L541.83 125.87 L543.78 126.21 L545.73 126.57 L547.68 126.94 L549.63 127.31 L551.58 127.70 L553.52 128.10 L555.47 128.50 L557.42 128.92 L559.37 129.34 L561.32 129.78 L563.27 130.23 L565.22 130.68 L567.16 131.15 L569.11 131.63 L571.06 132.12 L573.01 132.62 L574.96 133.13 L576.91 133.65 L578.86 134.18 L580.81 134.72 L582.75 135.27 L584.70 135.84 L586.65 136.41 L588.60 137.00 L590.55 137.60 L592.50 138.20 L594.45 138.83 L596.40 139.46 L598.34 140.10 L600.29 140.76 L602.24 141.42 L604.19 142.10 L606.14 142.79 L608.09 143.49 L610.04 144.21 L611.98 144.93 L613.93 145.67 L615.88 146.42 L617.83 147.18 L619.78 147.96 L621.73 148.74 L623.68 149.54 L625.63 150.35 L627.57 151.18 L629.52 152.02 L631.47 152.87 L633.42 153.73 L635.37 154.60 L637.32 155.49 L639.27 156.40 L641.22 157.31 L643.16 158.24 L645.11 159.18 L647.06 160.13 L649.01 161.10 L650.96 162.08 L652.91 163.08 L654.86 164.09 L656.80 165.11 L658.75 166.15" stroke-width="2.2" stroke-dasharray="5.7 1.7"/>
<path d="M805.81 232.50 L806.29 239.90 L806.77 246.54 L807.25 252.54 L807.73 257.99 L808.21 262.96 L808.69 267.53 L809.17 271.74 L809.65 275.63 L810.13 279.24 L810.62 282.60 L811.10 285.74 L811.58 288.67 L812.06 291.41 L812.54 293.99 L813.02 296.41 L813.50 298.69 L813.98 300.84 L814.46 302.87 L814.94 304.78 L815.42 306.59 L815.90 308.31 L816.38 309.93 L816.86 311.47 L817.34 312.94 L817.82 314.32 L818.30 315.64 L818.78 316.89 L819.26 318.07 L819.74 319.20 L820.23 320.27 L820.71 321.29 L821.19 322.26 L821.67 323.18 L822.15 324.06 L822.63 324.89 L823.11 325.68 L823.59 326.44 L824.07 327.16 L824.55 327.84 L825.03 328.49 L825.51 329.10 L825.99 329.69 L826.47 330.25 L826.95 330.78 L827.43 331.28 L827.91 331.76 L828.39 332.21 L828.87 332.65 L829.35 333.06 L829.84 333.44 L830.32 333.81 L830.80 334.16 L831.28 334.49 L831.76 334.80 L832.24 335.10 L832.72 335.37 L833.20 335.63 L833.68 335.88 L834.16 336.11 L834.64 336.32 L835.12 336.52 L835.60 336.71 L836.08 336.88 L836.56 337.04 L837.04 337.19 L837.52 337.32 L838.00 337.44 L838.48 337.55 L838.96 337.65 L839.45 337.74 L839.93 337.82 L840.41 337.88 L840.89 337.94 L841.37 337.98 L841.85 338.02 L842.33 338.05 L842.81 338.06 L843.29 338.07 L843.77 338.07 L844.25 338.06 L844.73 338.04 L845.21 338.02 L845.69 337.99 L846.17 337.95 L846.65 337.90 L847.13 337.85 L847.61 337.79 L848.09 337.72 L848.57 337.65 L849.06 337.57 L849.54 337.49 L850.02 337.40 L850.50 337.31 L850.98 337.21 L851.46 337.11 L851.94 337.01 L852.42 336.90 L852.90 336.78 L853.38 336.66 L853.86 336.54 L854.34 336.42 L854.82 336.29 L855.30 336.16 L855.78 336.03 L856.26 335.89 L856.74 335.75 L857.22 335.61 L857.70 335.47 L858.18 335.32 L858.67 335.17 L859.15 335.02 L859.63 334.87 L860.11 334.71 L860.59 334.56 L861.07 334.40 L861.55 334.24 L862.03 334.08 L862.51 333.92 L862.99 333.75 L863.47 333.59 L863.95 333.42 L864.43 333.25 L864.91 333.09 L865.39 332.92 L865.87 332.75 L866.35 332.58 L866.83 332.40 L867.31 332.23 L867.79 332.05 L868.28 331.88 L868.76 331.70 L869.24 331.52 L869.72 331.35 L870.20 331.17 L870.68 330.99 L871.16 330.81 L871.64 330.62 L872.12 330.44 L872.60 330.26 L873.08 330.07 L875.00 329.32 L876.92 328.56 L878.85 327.79 L880.77 327.01 L882.69 326.21 L884.61 325.41 L886.53 324.59 L888.46 323.77 L890.38 322.93 L892.30 322.09 L894.22 321.24 L896.14 320.39 L898.07 319.53 L899.99 318.66 L901.91 317.80 L903.83 316.93 L905.75 316.06 L907.68 315.19 L909.60 314.31 L911.52 313.44 L913.44 312.57 L915.36 311.71 L917.29 310.84 L919.21 309.98 L921.13 309.12 L923.05 308.26 L924.97 307.41 L926.90 306.56 L928.82 305.71 L930.74 304.87 L932.66 304.03 L934.58 303.20 L936.51 302.37 L938.43 301.55 L940.35 300.73 L942.27 299.91 L944.19 299.10 L946.12 298.30 L948.04 297.49 L949.96 296.70 L951.88 295.90 L953.80 295.11 L955.73 294.33 L957.65 293.54 L959.57 292.77 L961.49 291.99 L963.41 291.22 L965.34 290.46 L967.26 289.69 L969.18 288.94 L971.10 288.18 L973.02 287.43 L974.95 286.68 L976.87 285.94 L978.79 285.20 L980.71 284.46 L982.63 283.73 L984.56 283.00 L986.48 282.28 L988.40 281.55 L990.32 280.83 L992.24 280.12 L994.17 279.41 L996.09 278.70 L998.01 277.99 L999.93 277.29 L1001.85 276.59 L1003.78 275.90 L1005.70 275.20 L1007.62 274.51 L1009.54 273.83 L1011.46 273.15 L1013.39 272.47 L1015.31 271.79 L1017.23 271.12 L1019.15 270.45 L1021.07 269.78 L1023.00 269.11 L1024.92 268.45 L1026.84 267.80 L1028.76 267.14 L1030.68 266.49 L1032.61 265.84 L1034.53 265.19 L1036.45 264.55 L1038.37 263.91 L1040.29 263.27 L1042.22 262.64 L1044.14 262.00 L1046.06 261.37 L1047.98 260.75 L1049.90 260.12 L1051.83 259.50 L1053.75 258.88 L1055.67 258.26 L1057.59 257.65 L1059.51 257.04 L1061.44 256.43 L1063.36 255.82 L1065.28 255.22 L1067.20 254.62 L1069.12 254.02 L1071.05 253.42 L1072.97 252.83 L1074.89 252.23 L1076.81 251.64 L1078.73 251.05 L1080.66 250.47 L1082.58 249.88 L1084.50 249.30 L1086.42 248.72 L1088.34 248.14 L1090.27 247.57 L1092.19 246.99 L1094.11 246.42 L1096.03 245.85 L1097.95 245.28 L1099.88 244.71 L1101.80 244.15 L1103.72 243.58 L1105.64 243.02 L1107.56 242.46 L1109.49 241.90 L1111.41 241.35 L1113.33 240.79 L1115.25 240.24 L1117.17 239.68 L1119.10 239.13 L1121.02 238.58 L1122.94 238.03 L1124.86 237.49 L1126.78 236.94 L1128.71 236.40 L1130.63 235.85 L1132.55 235.31 L1134.47 234.77 L1136.39 234.23 L1138.32 233.69 L1140.24 233.15 L1142.16 232.62 L1144.08 232.08 L1146.00 231.55 L1147.93 231.01 L1149.85 230.48 L1151.77 229.95 L1153.69 229.41 L1155.61 228.88 L1157.54 228.35 L1159.46 227.83 L1161.38 227.30 L1163.30 226.77 L1165.22 226.24 L1167.15 225.72 L1169.07 225.19 L1170.99 224.67 L1172.91 224.14 L1174.83 223.62 L1176.76 223.09 L1178.68 222.57 L1180.60 222.05 L1182.52 221.53 L1184.44 221.00 L1186.37 220.48 L1188.29 219.96 L1190.21 219.44 L1192.13 218.92 L1194.05 218.40 L1195.98 217.88 L1197.90 217.36 L1199.82 216.84 L1201.74 216.32 L1203.66 215.80 L1205.59 215.29 L1207.51 214.77 L1209.43 214.25 L1211.35 213.73 L1213.27 213.21 L1215.20 212.69 L1217.12 212.18 L1219.04 211.66 L1220.96 211.14 L1222.88 210.62 L1224.81 210.10 L1226.73 209.58 L1228.65 209.07 L1230.57 208.55 L1232.49 208.03 L1234.42 207.51 L1236.34 206.99 L1238.26 206.47 L1240.18 205.95 L1242.10 205.43 L1244.03 204.91 L1245.95 204.39 L1247.87 203.87 L1249.79 203.35 L1251.71 202.83 L1253.64 202.31 L1255.56 201.79 L1257.48 201.26 L1259.40 200.74 L1261.32 200.22 L1263.25 199.70 L1265.17 199.17 L1267.09 198.65 L1269.01 198.12 L1270.93 197.60 L1272.86 197.07 L1274.78 196.55 L1276.70 196.02 L1278.62 195.49 L1280.54 194.97 L1282.47 194.44 L1284.39 193.91 L1286.31 193.38 L1288.23 192.85 L1290.15 192.32 L1292.08 191.79 L1294.00 191.26 L1295.92 190.72 L1297.84 190.19 L1299.76 189.66 L1301.69 189.12 L1303.61 188.59 L1305.53 188.05 L1307.45 187.51 L1309.37 186.98 L1311.30 186.44 L1313.22 185.90 L1315.14 185.36 L1317.06 184.82 L1318.98 184.27 L1320.91 183.73 L1322.83 183.19 L1324.75 182.64 L1326.67 182.10 L1328.59 181.55 L1330.52 181.01 L1332.44 180.46 L1334.36 179.91 L1336.28 179.36 L1338.20 178.81 L1340.13 178.26 L1342.05 177.71 L1343.97 177.15 L1345.89 176.60 L1347.81 176.05 L1349.74 175.49 L1351.66 174.94 L1353.58 174.38 L1355.50 173.82 L1357.42 173.26 L1359.35 172.70 L1361.27 172.14 L1363.19 171.58 L1365.11 171.02 L1367.03 170.46 L1368.96 169.89 L1370.88 169.33 L1372.80 168.76 L1374.72 168.20 L1376.64 167.63 L1378.57 167.07 L1380.49 166.50 L1382.41 165.93" fill="none" stroke="#e9e9e9" stroke-width="1.8"/>
<path d="M805.81 232.50 L806.29 239.90 L806.77 246.54 L807.25 252.54 L807.73 257.99 L808.21 262.96 L808.69 267.53 L809.17 271.74 L809.65 275.63 L810.13 279.24 L810.62 282.60 L811.10 285.74 L811.58 288.67 L812.06 291.41 L812.54 293.99 L813.02 296.41 L813.50 298.69 L813.98 300.84 L814.46 302.87 L814.94 304.78 L815.42 306.59 L815.90 308.31 L816.38 309.93 L816.86 311.47 L817.34 312.94 L817.82 314.32 L818.30 315.64 L818.78 316.89 L819.26 318.07 L819.74 319.20 L820.23 320.27 L820.71 321.29 L821.19 322.26 L821.67 323.18 L822.15 324.06 L822.63 324.89 L823.11 325.68 L823.59 326.44 L824.07 327.16 L824.55 327.84 L825.03 328.49 L825.51 329.10 L825.99 329.69 L826.47 330.25 L826.95 330.78 L827.43 331.28 L827.91 331.76 L828.39 332.21 L828.87 332.65 L829.35 333.06 L829.84 333.44 L830.32 333.81 L830.80 334.16 L831.28 334.49 L831.76 334.80 L832.24 335.10 L832.72 335.37 L833.20 335.63 L833.68 335.88 L834.16 336.11 L834.64 336.32 L835.12 336.52 L835.60 336.71 L836.08 336.88 L836.56 337.04 L837.04 337.19 L837.52 337.32 L838.00 337.44 L838.48 337.55 L838.96 337.65 L839.45 337.74 L839.93 337.82 L840.41 337.88 L840.89 337.94 L841.37 337.98 L841.85 338.02 L842.33 338.05 L842.81 338.06 L843.29 338.07 L843.77 338.07 L844.25 338.06 L844.73 338.04 L845.21 338.02 L845.69 337.99 L846.17 337.95 L846.65 337.90 L847.13 337.85 L847.61 337.79 L848.09 337.72 L848.57 337.65 L849.06 337.57 L849.54 337.49 L850.02 337.40 L850.50 337.31 L850.98 337.21 L851.46 337.11 L851.94 337.01 L852.42 336.90 L852.90 336.78 L853.38 336.66 L853.86 336.54 L854.34 336.42 L854.82 336.29 L855.30 336.16 L855.78 336.03 L856.26 335.89 L856.74 335.75 L857.22 335.61 L857.70 335.47 L858.18 335.32 L858.67 335.17 L859.15 335.02 L859.63 334.87 L860.11 334.71 L860.59 334.56 L861.07 334.40 L861.55 334.24 L862.03 334.08 L862.51 333.92 L862.99 333.75 L863.47 333.59 L863.95 333.42 L864.43 333.25 L864.91 333.09 L865.39 332.92 L865.87 332.75 L866.35 332.58 L866.83 332.40 L867.31 332.23 L867.79 332.05 L868.28 331.88 L868.76 331.70 L869.24 331.52 L869.72 331.35 L870.20 331.17 L870.68 330.99 L871.16 330.81 L871.64 330.62 L872.12 330.44 L872.60 330.26 L873.08 330.07 L875.00 329.32 L876.92 328.56 L878.85 327.79 L880.77 327.01 L882.69 326.21 L884.61 325.41 L886.53 324.59 L888.46 323.77 L890.38 322.93 L892.30 322.09 L894.22 321.24 L896.14 320.39 L898.07 319.53 L899.99 318.66 L901.91 317.80 L903.83 316.93 L905.75 316.06 L907.68 315.19 L909.60 314.31 L911.52 313.44 L913.44 312.57 L915.36 311.71 L917.29 310.84 L919.21 309.98 L921.13 309.12 L923.05 308.26 L924.97 307.41 L926.90 306.56 L928.82 305.71 L930.74 304.87 L932.66 304.03 L934.58 303.20 L936.51 302.37 L938.43 301.55 L940.35 300.73 L942.27 299.91 L944.19 299.10 L946.12 298.30 L948.04 297.49 L949.96 296.70 L951.88 295.90 L953.80 295.11 L955.73 294.33 L957.65 293.54 L959.57 292.77 L961.49 291.99 L963.41 291.22 L965.34 290.46 L967.26 289.69 L969.18 288.94 L971.10 288.18 L973.02 287.43 L974.95 286.68 L976.87 285.94 L978.79 285.20 L980.71 284.46 L982.63 283.73 L984.56 283.00 L986.48 282.28 L988.40 281.55 L990.32 280.83 L992.24 280.12 L994.17 279.41 L996.09 278.70 L998.01 277.99 L999.93 277.29 L1001.85 276.59 L1003.78 275.90 L1005.70 275.20 L1007.62 274.51 L1009.54 273.83 L1011.46 273.15 L1013.39 272.47 L1015.31 271.79 L1017.23 271.12 L1019.15 270.45 L1021.07 269.78 L1023.00 269.11 L1024.92 268.45 L1026.84 267.80 L1028.76 267.14 L1030.68 266.49 L1032.61 265.84 L1034.53 265.19 L1036.45 264.55 L1038.37 263.91 L1040.29 263.27 L1042.22 262.64 L1044.14 262.00 L1046.06 261.37 L1047.98 260.75 L1049.90 260.12 L1051.83 259.50 L1053.75 258.88 L1055.67 258.26 L1057.59 257.65 L1059.51 257.04 L1061.44 256.43 L1063.36 255.82 L1065.28 255.22 L1067.20 254.62 L1069.12 254.02 L1071.05 253.42 L1072.97 252.83 L1074.89 252.23 L1076.81 251.64 L1078.73 251.05 L1080.66 250.47 L1082.58 249.88 L1084.50 249.30 L1086.42 248.72 L1088.34 248.14 L1090.27 247.57 L1092.19 246.99 L1094.11 246.42 L1096.03 245.85 L1097.95 245.28 L1099.88 244.71 L1101.80 244.15 L1103.72 243.58 L1105.64 243.02 L1107.56 242.46 L1109.49 241.90 L1111.41 241.35 L1113.33 240.79 L1115.25 240.24 L1117.17 239.68 L1119.10 239.13 L1121.02 238.58 L1122.94 238.03 L1124.86 237.49 L1126.78 236.94 L1128.71 236.40 L1130.63 235.85 L1132.55 235.31 L1134.47 234.77 L1136.39 234.23 L1138.32 233.69 L1140.24 233.15 L1142.16 232.62 L1144.08 232.08 L1146.00 231.55 L1147.93 231.01 L1149.85 230.48 L1151.77 229.95 L1153.69 229.41 L1155.61 228.88 L1157.54 228.35 L1159.46 227.83 L1161.38 227.30 L1163.30 226.77 L1165.22 226.24 L1167.15 225.72 L1169.07 225.19 L1170.99 224.67 L1172.91 224.14 L1174.83 223.62 L1176.76 223.09 L1178.68 222.57 L1180.60 222.05 L1182.52 221.53 L1184.44 221.00 L1186.37 220.48 L1188.29 219.96 L1190.21 219.44 L1192.13 218.92 L1194.05 218.40 L1195.98 217.88 L1197.90 217.36 L1199.82 216.84 L1201.74 216.32 L1203.66 215.80 L1205.59 215.29 L1207.51 214.77 L1209.43 214.25 L1211.35 213.73 L1213.27 213.21 L1215.20 212.69 L1217.12 212.18 L1219.04 211.66 L1220.96 211.14 L1222.88 210.62 L1224.81 210.10 L1226.73 209.58 L1228.65 209.07 L1230.57 208.55 L1232.49 208.03 L1234.42 207.51 L1236.34 206.99 L1238.26 206.47 L1240.18 205.95 L1242.10 205.43 L1244.03 204.91 L1245.95 204.39 L1247.87 203.87 L1249.79 203.35 L1251.71 202.83 L1253.64 202.31 L1255.56 201.79 L1257.48 201.26 L1259.40 200.74 L1261.32 200.22 L1263.25 199.70 L1265.17 199.17 L1267.09 198.65 L1269.01 198.12 L1270.93 197.60 L1272.86 197.07 L1274.78 196.55 L1276.70 196.02 L1278.62 195.49 L1280.54 194.97 L1282.47 194.44 L1284.39 193.91 L1286.31 193.38 L1288.23 192.85 L1290.15 192.32 L1292.08 191.79 L1294.00 191.26 L1295.92 190.72 L1297.84 190.19 L1299.76 189.66 L1301.69 189.12 L1303.61 188.59 L1305.53 188.05 L1307.45 187.51 L1309.37 186.98 L1311.30 186.44 L1313.22 185.90 L1315.14 185.36 L1317.06 184.82 L1318.98 184.27 L1320.91 183.73 L1322.83 183.19 L1324.75 182.64 L1326.67 182.10 L1328.59 181.55 L1330.52 181.01 L1332.44 180.46 L1334.36 179.91 L1336.28 179.36 L1338.20 178.81 L1340.13 178.26 L1342.05 177.71 L1343.97 177.15 L1345.89 176.60 L1347.81 176.05 L1349.74 175.49 L1351.66 174.94 L1353.58 174.38 L1355.50 173.82 L1357.42 173.26 L1359.35 172.70 L1361.27 172.14 L1363.19 171.58 L1365.11 171.02 L1367.03 170.46 L1368.96 169.89 L1370.88 169.33 L1372.80 168.76 L1374.72 168.20 L1376.64 167.63 L1378.57 167.07 L1380.49 166.50 L1382.41 165.93" fill="none" stroke="#b4b4b4" stroke-width="2" stroke-dasharray="0.8 1.1 0.8 4.7" stroke-dashoffset="-4.35"/>
<path d="M805.81 232.50 L806.29 239.90 L806.77 246.54 L807.25 252.54 L807.73 257.99 L808.21 262.96 L808.69 267.53 L809.17 271.74 L809.65 275.63 L810.13 279.24 L810.62 282.60 L811.10 285.74 L811.58 288.67 L812.06 291.41 L812.54 293.99 L813.02 296.41 L813.50 298.69 L813.98 300.84 L814.46 302.87 L814.94 304.78 L815.42 306.59 L815.90 308.31 L816.38 309.93 L816.86 311.47 L817.34 312.94 L817.82 314.32 L818.30 315.64 L818.78 316.89 L819.26 318.07 L819.74 319.20 L820.23 320.27 L820.71 321.29 L821.19 322.26 L821.67 323.18 L822.15 324.06 L822.63 324.89 L823.11 325.68 L823.59 326.44 L824.07 327.16 L824.55 327.84 L825.03 328.49 L825.51 329.10 L825.99 329.69 L826.47 330.25 L826.95 330.78 L827.43 331.28 L827.91 331.76 L828.39 332.21 L828.87 332.65 L829.35 333.06 L829.84 333.44 L830.32 333.81 L830.80 334.16 L831.28 334.49 L831.76 334.80 L832.24 335.10 L832.72 335.37 L833.20 335.63 L833.68 335.88 L834.16 336.11 L834.64 336.32 L835.12 336.52 L835.60 336.71 L836.08 336.88 L836.56 337.04 L837.04 337.19 L837.52 337.32 L838.00 337.44 L838.48 337.55 L838.96 337.65 L839.45 337.74 L839.93 337.82 L840.41 337.88 L840.89 337.94 L841.37 337.98 L841.85 338.02 L842.33 338.05 L842.81 338.06 L843.29 338.07 L843.77 338.07 L844.25 338.06 L844.73 338.04 L845.21 338.02 L845.69 337.99 L846.17 337.95 L846.65 337.90 L847.13 337.85 L847.61 337.79 L848.09 337.72 L848.57 337.65 L849.06 337.57 L849.54 337.49 L850.02 337.40 L850.50 337.31 L850.98 337.21 L851.46 337.11 L851.94 337.01 L852.42 336.90 L852.90 336.78 L853.38 336.66 L853.86 336.54 L854.34 336.42 L854.82 336.29 L855.30 336.16 L855.78 336.03 L856.26 335.89 L856.74 335.75 L857.22 335.61 L857.70 335.47 L858.18 335.32 L858.67 335.17 L859.15 335.02 L859.63 334.87 L860.11 334.71 L860.59 334.56 L861.07 334.40 L861.55 334.24 L862.03 334.08 L862.51 333.92 L862.99 333.75 L863.47 333.59 L863.95 333.42 L864.43 333.25 L864.91 333.09 L865.39 332.92 L865.87 332.75 L866.35 332.58 L866.83 332.40 L867.31 332.23 L867.79 332.05 L868.28 331.88 L868.76 331.70 L869.24 331.52 L869.72 331.35 L870.20 331.17 L870.68 330.99 L871.16 330.81 L871.64 330.62 L872.12 330.44 L872.60 330.26 L873.08 330.07 L875.00 329.32 L876.92 328.56 L878.85 327.79 L880.77 327.01 L882.69 326.21 L884.61 325.41 L886.53 324.59 L888.46 323.77 L890.38 322.93 L892.30 322.09 L894.22 321.24 L896.14 320.39 L898.07 319.53 L899.99 318.66 L901.91 317.80 L903.83 316.93 L905.75 316.06 L907.68 315.19 L909.60 314.31 L911.52 313.44 L913.44 312.57 L915.36 311.71 L917.29 310.84 L919.21 309.98 L921.13 309.12 L923.05 308.26 L924.97 307.41 L926.90 306.56 L928.82 305.71 L930.74 304.87 L932.66 304.03 L934.58 303.20 L936.51 302.37 L938.43 301.55 L940.35 300.73 L942.27 299.91 L944.19 299.10 L946.12 298.30 L948.04 297.49 L949.96 296.70 L951.88 295.90 L953.80 295.11 L955.73 294.33 L957.65 293.54 L959.57 292.77 L961.49 291.99 L963.41 291.22 L965.34 290.46 L967.26 289.69 L969.18 288.94 L971.10 288.18 L973.02 287.43 L974.95 286.68 L976.87 285.94 L978.79 285.20 L980.71 284.46 L982.63 283.73 L984.56 283.00 L986.48 282.28 L988.40 281.55 L990.32 280.83 L992.24 280.12 L994.17 279.41 L996.09 278.70 L998.01 277.99 L999.93 277.29 L1001.85 276.59 L1003.78 275.90 L1005.70 275.20 L1007.62 274.51 L1009.54 273.83 L1011.46 273.15 L1013.39 272.47 L1015.31 271.79 L1017.23 271.12 L1019.15 270.45 L1021.07 269.78 L1023.00 269.11 L1024.92 268.45 L1026.84 267.80 L1028.76 267.14 L1030.68 266.49 L1032.61 265.84 L1034.53 265.19 L1036.45 264.55 L1038.37 263.91 L1040.29 263.27 L1042.22 262.64 L1044.14 262.00 L1046.06 261.37 L1047.98 260.75 L1049.90 260.12 L1051.83 259.50 L1053.75 258.88 L1055.67 258.26 L1057.59 257.65 L1059.51 257.04 L1061.44 256.43 L1063.36 255.82 L1065.28 255.22 L1067.20 254.62 L1069.12 254.02 L1071.05 253.42 L1072.97 252.83 L1074.89 252.23 L1076.81 251.64 L1078.73 251.05 L1080.66 250.47 L1082.58 249.88 L1084.50 249.30 L1086.42 248.72 L1088.34 248.14 L1090.27 247.57 L1092.19 246.99 L1094.11 246.42 L1096.03 245.85 L1097.95 245.28 L1099.88 244.71 L1101.80 244.15 L1103.72 243.58 L1105.64 243.02 L1107.56 242.46 L1109.49 241.90 L1111.41 241.35 L1113.33 240.79 L1115.25 240.24 L1117.17 239.68 L1119.10 239.13 L1121.02 238.58 L1122.94 238.03 L1124.86 237.49 L1126.78 236.94 L1128.71 236.40 L1130.63 235.85 L1132.55 235.31 L1134.47 234.77 L1136.39 234.23 L1138.32 233.69 L1140.24 233.15 L1142.16 232.62 L1144.08 232.08 L1146.00 231.55 L1147.93 231.01 L1149.85 230.48 L1151.77 229.95 L1153.69 229.41 L1155.61 228.88 L1157.54 228.35 L1159.46 227.83 L1161.38 227.30 L1163.30 226.77 L1165.22 226.24 L1167.15 225.72 L1169.07 225.19 L1170.99 224.67 L1172.91 224.14 L1174.83 223.62 L1176.76 223.09 L1178.68 222.57 L1180.60 222.05 L1182.52 221.53 L1184.44 221.00 L1186.37 220.48 L1188.29 219.96 L1190.21 219.44 L1192.13 218.92 L1194.05 218.40 L1195.98 217.88 L1197.90 217.36 L1199.82 216.84 L1201.74 216.32 L1203.66 215.80 L1205.59 215.29 L1207.51 214.77 L1209.43 214.25 L1211.35 213.73 L1213.27 213.21 L1215.20 212.69 L1217.12 212.18 L1219.04 211.66 L1220.96 211.14 L1222.88 210.62 L1224.81 210.10 L1226.73 209.58 L1228.65 209.07 L1230.57 208.55 L1232.49 208.03 L1234.42 207.51 L1236.34 206.99 L1238.26 206.47 L1240.18 205.95 L1242.10 205.43 L1244.03 204.91 L1245.95 204.39 L1247.87 203.87 L1249.79 203.35 L1251.71 202.83 L1253.64 202.31 L1255.56 201.79 L1257.48 201.26 L1259.40 200.74 L1261.32 200.22 L1263.25 199.70 L1265.17 199.17 L1267.09 198.65 L1269.01 198.12 L1270.93 197.60 L1272.86 197.07 L1274.78 196.55 L1276.70 196.02 L1278.62 195.49 L1280.54 194.97 L1282.47 194.44 L1284.39 193.91 L1286.31 193.38 L1288.23 192.85 L1290.15 192.32 L1292.08 191.79 L1294.00 191.26 L1295.92 190.72 L1297.84 190.19 L1299.76 189.66 L1301.69 189.12 L1303.61 188.59 L1305.53 188.05 L1307.45 187.51 L1309.37 186.98 L1311.30 186.44 L1313.22 185.90 L1315.14 185.36 L1317.06 184.82 L1318.98 184.27 L1320.91 183.73 L1322.83 183.19 L1324.75 182.64 L1326.67 182.10 L1328.59 181.55 L1330.52 181.01 L1332.44 180.46 L1334.36 179.91 L1336.28 179.36 L1338.20 178.81 L1340.13 178.26 L1342.05 177.71 L1343.97 177.15 L1345.89 176.60 L1347.81 176.05 L1349.74 175.49 L1351.66 174.94 L1353.58 174.38 L1355.50 173.82 L1357.42 173.26 L1359.35 172.70 L1361.27 172.14 L1363.19 171.58 L1365.11 171.02 L1367.03 170.46 L1368.96 169.89 L1370.88 169.33 L1372.80 168.76 L1374.72 168.20 L1376.64 167.63 L1378.57 167.07 L1380.49 166.50 L1382.41 165.93" fill="none" stroke="#4c4c4c" stroke-width="2.2" stroke-dasharray="2.1 5.3" stroke-dashoffset="-1.25"/>
<path class="l" d="M805.81 157.02 L806.29 167.35 L806.77 176.71 L807.25 185.26 L807.73 193.11 L808.21 200.37 L808.69 207.12 L809.17 213.43 L809.65 219.34 L810.13 224.89 L810.62 230.13 L811.10 235.09 L811.58 239.79 L812.06 244.25 L812.54 248.50 L813.02 252.55 L813.50 256.41 L813.98 260.10 L814.46 263.64 L814.94 267.02 L815.42 270.26 L815.90 273.37 L816.38 276.35 L816.86 279.22 L817.34 281.97 L817.82 284.62 L818.30 287.17 L818.78 289.62 L819.26 291.98 L819.74 294.26 L820.23 296.45 L820.71 298.57 L821.19 300.61 L821.67 302.58 L822.15 304.48 L822.63 306.31 L823.11 308.09 L823.59 309.80 L824.07 311.46 L824.55 313.06 L825.03 314.61 L825.51 316.10 L825.99 317.56 L826.47 318.96 L826.95 320.32 L827.43 321.64 L827.91 322.92 L828.39 324.16 L828.87 325.36 L829.35 326.52 L829.84 327.65 L830.32 328.75 L830.80 329.82 L831.28 330.85 L831.76 331.85 L832.24 332.83 L832.72 333.78 L833.20 334.69 L833.68 335.59 L834.16 336.45 L834.64 337.29 L835.12 338.11 L835.60 338.90 L836.08 339.67 L836.56 340.41 L837.04 341.13 L837.52 341.83 L838.00 342.51 L838.48 343.17 L838.96 343.81 L839.45 344.43 L839.93 345.03 L840.41 345.61 L840.89 346.17 L841.37 346.72 L841.85 347.25 L842.33 347.76 L842.81 348.25 L843.29 348.73 L843.77 349.19 L844.25 349.64 L844.73 350.08 L845.21 350.49 L845.69 350.90 L846.17 351.29 L846.65 351.67 L847.13 352.03 L847.61 352.39 L848.09 352.73 L848.57 353.06 L849.06 353.38 L849.54 353.69 L850.02 353.98 L850.50 354.27 L850.98 354.55 L851.46 354.82 L851.94 355.08 L852.42 355.34 L852.90 355.58 L853.38 355.81 L853.86 356.04 L854.34 356.26 L854.82 356.48 L855.30 356.68 L855.78 356.88 L856.26 357.07 L856.74 357.26 L857.22 357.44 L857.70 357.61 L858.18 357.78 L858.67 357.94 L859.15 358.10 L859.63 358.25 L860.11 358.40 L860.59 358.54 L861.07 358.67 L861.55 358.81 L862.03 358.93 L862.51 359.06 L862.99 359.17 L863.47 359.29 L863.95 359.40 L864.43 359.51 L864.91 359.61 L865.39 359.71 L865.87 359.80 L866.35 359.90 L866.83 359.98 L867.31 360.07 L867.79 360.15 L868.28 360.23 L868.76 360.31 L869.24 360.38 L869.72 360.45 L870.20 360.51 L870.68 360.58 L871.16 360.64 L871.64 360.69 L872.12 360.75 L872.60 360.80 L873.08 360.85 L875.00 361.02 L876.92 361.15 L878.85 361.25 L880.77 361.31 L882.69 361.33 L884.61 361.33 L886.53 361.31 L888.46 361.25 L890.38 361.17 L892.30 361.07 L894.22 360.95 L896.14 360.81 L898.07 360.65 L899.99 360.47 L901.91 360.28 L903.83 360.07 L905.75 359.85 L907.68 359.61 L909.60 359.36 L911.52 359.11 L913.44 358.84 L915.36 358.56 L917.29 358.27 L919.21 357.98 L921.13 357.68 L923.05 357.36 L924.97 357.05 L926.90 356.72 L928.82 356.39 L930.74 356.06 L932.66 355.71 L934.58 355.37 L936.51 355.02 L938.43 354.66 L940.35 354.30 L942.27 353.94 L944.19 353.57 L946.12 353.20 L948.04 352.83 L949.96 352.45 L951.88 352.07 L953.80 351.69 L955.73 351.31 L957.65 350.93 L959.57 350.54 L961.49 350.15 L963.41 349.76 L965.34 349.37 L967.26 348.98 L969.18 348.59 L971.10 348.19 L973.02 347.80 L974.95 347.40 L976.87 347.00 L978.79 346.61 L980.71 346.21 L982.63 345.81 L984.56 345.41 L986.48 345.01 L988.40 344.61 L990.32 344.21 L992.24 343.82 L994.17 343.42 L996.09 343.02 L998.01 342.62 L999.93 342.22 L1001.85 341.82 L1003.78 341.42 L1005.70 341.02 L1007.62 340.62 L1009.54 340.23 L1011.46 339.83 L1013.39 339.43 L1015.31 339.03 L1017.23 338.63 L1019.15 338.24 L1021.07 337.84 L1023.00 337.44 L1024.92 337.05 L1026.84 336.65 L1028.76 336.26 L1030.68 335.86 L1032.61 335.47 L1034.53 335.07 L1036.45 334.68 L1038.37 334.28 L1040.29 333.89 L1042.22 333.50 L1044.14 333.11 L1046.06 332.71 L1047.98 332.32 L1049.90 331.93 L1051.83 331.54 L1053.75 331.15 L1055.67 330.76 L1057.59 330.37 L1059.51 329.98 L1061.44 329.59 L1063.36 329.20 L1065.28 328.81 L1067.20 328.43 L1069.12 328.04 L1071.05 327.65 L1072.97 327.26 L1074.89 326.88 L1076.81 326.49 L1078.73 326.10 L1080.66 325.72 L1082.58 325.33 L1084.50 324.94 L1086.42 324.56 L1088.34 324.17 L1090.27 323.79 L1092.19 323.40 L1094.11 323.02 L1096.03 322.63 L1097.95 322.24 L1099.88 321.86 L1101.80 321.47 L1103.72 321.09 L1105.64 320.70 L1107.56 320.32 L1109.49 319.93 L1111.41 319.54 L1113.33 319.16 L1115.25 318.77 L1117.17 318.38 L1119.10 317.99 L1121.02 317.61 L1122.94 317.22 L1124.86 316.83 L1126.78 316.44 L1128.71 316.05 L1130.63 315.66 L1132.55 315.27 L1134.47 314.88 L1136.39 314.49 L1138.32 314.10 L1140.24 313.71 L1142.16 313.32 L1144.08 312.92 L1146.00 312.53 L1147.93 312.14 L1149.85 311.74 L1151.77 311.35 L1153.69 310.95 L1155.61 310.55 L1157.54 310.15 L1159.46 309.76 L1161.38 309.36 L1163.30 308.96 L1165.22 308.56 L1167.15 308.15 L1169.07 307.75 L1170.99 307.35 L1172.91 306.94 L1174.83 306.54 L1176.76 306.13 L1178.68 305.73 L1180.60 305.32 L1182.52 304.91 L1184.44 304.50 L1186.37 304.09 L1188.29 303.68 L1190.21 303.27 L1192.13 302.85 L1194.05 302.44 L1195.98 302.03 L1197.90 301.61 L1199.82 301.19 L1201.74 300.78 L1203.66 300.36 L1205.59 299.94 L1207.51 299.52 L1209.43 299.10 L1211.35 298.68 L1213.27 298.25 L1215.20 297.83 L1217.12 297.41 L1219.04 296.98 L1220.96 296.56 L1222.88 296.13 L1224.81 295.70 L1226.73 295.27 L1228.65 294.84 L1230.57 294.41 L1232.49 293.98 L1234.42 293.55 L1236.34 293.11 L1238.26 292.68 L1240.18 292.24 L1242.10 291.81 L1244.03 291.37 L1245.95 290.93 L1247.87 290.49 L1249.79 290.05 L1251.71 289.61 L1253.64 289.17 L1255.56 288.73 L1257.48 288.28 L1259.40 287.84 L1261.32 287.39 L1263.25 286.95 L1265.17 286.50 L1267.09 286.05 L1269.01 285.61 L1270.93 285.16 L1272.86 284.71 L1274.78 284.26 L1276.70 283.80 L1278.62 283.35 L1280.54 282.90 L1282.47 282.44 L1284.39 281.99 L1286.31 281.53 L1288.23 281.08 L1290.15 280.62 L1292.08 280.16 L1294.00 279.70 L1295.92 279.24 L1297.84 278.78 L1299.76 278.32 L1301.69 277.85 L1303.61 277.39 L1305.53 276.93 L1307.45 276.46 L1309.37 275.99 L1311.30 275.53 L1313.22 275.06 L1315.14 274.59 L1317.06 274.12 L1318.98 273.65 L1320.91 273.18 L1322.83 272.71 L1324.75 272.24 L1326.67 271.76 L1328.59 271.29 L1330.52 270.82 L1332.44 270.34 L1334.36 269.87 L1336.28 269.39 L1338.20 268.92 L1340.13 268.44 L1342.05 267.96 L1343.97 267.49 L1345.89 267.01 L1347.81 266.53 L1349.74 266.06 L1351.66 265.58 L1353.58 265.10 L1355.50 264.62 L1357.42 264.15 L1359.35 263.67 L1361.27 263.19 L1363.19 262.71 L1365.11 262.24 L1367.03 261.76 L1368.96 261.28 L1370.88 260.81 L1372.80 260.33 L1374.72 259.86 L1376.64 259.38 L1378.57 258.91 L1380.49 258.44 L1382.41 257.96" stroke-width="2.3"/>
<path class="l" d="M805.81 177.96 L806.29 190.12 L806.77 201.01 L807.25 210.86 L807.73 219.83 L808.21 228.04 L808.69 235.61 L809.17 242.61 L809.65 249.11 L810.13 255.18 L810.62 260.86 L811.10 266.18 L811.58 271.18 L812.06 275.90 L812.54 280.34 L813.02 284.54 L813.50 288.52 L813.98 292.28 L814.46 295.85 L814.94 299.24 L815.42 302.45" stroke-width="2.3" stroke-dasharray="1.8 0.95"/>
<path class="l" d="M815.42 302.45 L815.90 305.51 L816.38 308.42 L816.86 311.18 L817.34 313.81 L817.82 316.32 L818.30 318.70 L818.78 320.97 L819.26 323.14 L819.74 325.20 L820.23 327.17 L820.71 329.04 L821.19 330.82 L821.67 332.52 L822.15 334.14 L822.63 335.68 L823.11 337.15 L823.59 338.54 L824.07 339.87 L824.55 341.12 L825.03 342.32 L825.51 343.45 L825.99 344.52 L826.47 345.53 L826.95 346.49 L827.43 347.40 L827.91 348.25 L828.39 349.05 L828.87 349.80 L829.35 350.51 L829.84 351.17 L830.32 351.79 L830.80 352.37 L831.28 352.90 L831.76 353.40 L832.24 353.86 L832.72 354.28 L833.20 354.68 L833.68 355.04 L834.16 355.36 L834.64 355.66" stroke-width="2.3" stroke-dasharray="2.1 1.1"/>
<path class="l" d="M834.64 355.66 L835.12 355.94 L835.60 356.18 L836.08 356.41 L836.56 356.60 L837.04 356.78 L837.52 356.93 L838.00 357.07 L838.48 357.18 L838.96 357.28 L839.45 357.35 L839.93 357.41 L840.41 357.46 L840.89 357.49 L841.37 357.50 L841.85 357.51 L842.33 357.49 L842.81 357.47 L843.29 357.43 L843.77 357.39 L844.25 357.33 L844.73 357.26 L845.21 357.18 L845.69 357.10 L846.17 357.00 L846.65 356.89 L847.13 356.77 L847.61 356.65 L848.09 356.51 L848.57 356.37 L849.06 356.22 L849.54 356.05 L850.02 355.88 L850.50 355.70 L850.98 355.52 L851.46 355.32 L851.94 355.12 L852.42 354.90 L852.90 354.68 L853.38 354.46 L853.86 354.22 L854.34 353.98 L854.82 353.73 L855.30 353.47 L855.78 353.21 L856.26 352.93 L856.74 352.65 L857.22 352.37 L857.70 352.08 L858.18 351.78 L858.67 351.47 L859.15 351.16 L859.63 350.84 L860.11 350.51 L860.59 350.18 L861.07 349.84 L861.55 349.50 L862.03 349.15 L862.51 348.79 L862.99 348.43 L863.47 348.07 L863.95 347.69 L864.43 347.31 L864.91 346.93 L865.39 346.54 L865.87 346.15 L866.35 345.75 L866.83 345.35 L867.31 344.94 L867.79 344.53 L868.28 344.12 L868.76 343.70 L869.24 343.28 L869.72 342.85 L870.20 342.42 L870.68 341.99 L871.16 341.56 L871.64 341.12 L872.12 340.68 L872.60 340.24 L873.08 339.79 L875.00 337.99 L876.92 336.16 L878.85 334.30 L880.77 332.43 L882.69 330.54 L884.61 328.64 L886.53 326.73 L888.46 324.82 L890.38 322.91 L892.30 321.01 L894.22 319.10 L896.14 317.21 L898.07 315.31 L899.99 313.42 L901.91 311.53 L903.83 309.64 L905.75 307.75 L907.68 305.87 L909.60 303.98 L911.52 302.10 L913.44 300.21 L915.36 298.32 L917.29 296.44 L919.21 294.55 L921.13 292.66 L923.05 290.77 L924.97 288.88 L926.90 286.99 L928.82 285.09 L930.74 283.20 L932.66 281.30 L934.58 279.40 L936.51 277.50 L938.43 275.61 L940.35 273.72 L942.27 271.83 L944.19 269.94 L946.12 268.06 L948.04 266.18 L949.96 264.31 L951.88 262.44 L953.80 260.58 L955.73 258.73 L957.65 256.88 L959.57 255.05 L961.49 253.22 L963.41 251.40 L965.34 249.59 L967.26 247.78 L969.18 245.99 L971.10 244.21 L973.02 242.44 L974.95 240.67 L976.87 238.92 L978.79 237.18 L980.71 235.45 L982.63 233.73 L984.56 232.03 L986.48 230.33 L988.40 228.65 L990.32 226.98 L992.24 225.31 L994.17 223.67 L996.09 222.03 L998.01 220.40 L999.93 218.78 L1001.85 217.18 L1003.78 215.58 L1005.70 213.99 L1007.62 212.42 L1009.54 210.85 L1011.46 209.29 L1013.39 207.74 L1015.31 206.20 L1017.23 204.67 L1019.15 203.15 L1021.07 201.64 L1023.00 200.14 L1024.92 198.64 L1026.84 197.15 L1028.76 195.68 L1030.68 194.20 L1032.61 192.74 L1034.53 191.29 L1036.45 189.84 L1038.37 188.40 L1040.29 186.97 L1042.22 185.54 L1044.14 184.13 L1046.06 182.72 L1047.98 181.31 L1049.90 179.92 L1051.83 178.53 L1053.75 177.15 L1055.67 175.78 L1057.59 174.41 L1059.51 173.05 L1061.44 171.69 L1063.36 170.35 L1065.28 169.01 L1067.20 167.67 L1069.12 166.35 L1071.05 165.02 L1072.97 163.71 L1074.89 162.40 L1076.81 161.10 L1078.73 159.81 L1080.66 158.53 L1082.58 157.25 L1084.50 155.98 L1086.42 154.71 L1088.34 153.46 L1090.27 152.21 L1092.19 150.97 L1094.11 149.73 L1096.03 148.51 L1097.95 147.29 L1099.88 146.08 L1101.80 144.88 L1103.72 143.68 L1105.64 142.50 L1107.56 141.32 L1109.49 140.15 L1111.41 138.99 L1113.33 137.83 L1115.25 136.68 L1117.17 135.54 L1119.10 134.41 L1121.02 133.29 L1122.94 132.17 L1124.86 131.07 L1126.78 129.97 L1128.71 128.87 L1130.63 127.79 L1132.55 126.71 L1134.47 125.65 L1136.39 124.58 L1138.32 123.53 L1140.24 122.49 L1142.16 121.45 L1144.08 120.42 L1146.00 119.40 L1147.93 118.38 L1149.85 117.38 L1151.77 116.38 L1153.69 115.39 L1155.61 114.40 L1157.54 113.43 L1159.46 112.46 L1161.38 111.49 L1163.30 110.54 L1165.22 109.59 L1167.15 108.65 L1169.07 107.72 L1170.99 106.79 L1172.91 105.87 L1174.83 104.96 L1176.76 104.05 L1178.68 103.15 L1180.60 102.26 L1182.52 101.37 L1184.44 100.48 L1186.37 99.61 L1188.29 98.73 L1190.21 97.87 L1192.13 97.01 L1194.05 96.15 L1195.98 95.30 L1197.90 94.45 L1199.82 93.61 L1201.74 92.78 L1203.66 91.94 L1205.59 91.12 L1207.51 90.29 L1209.43 89.48 L1211.35 88.66 L1213.27 87.85 L1215.20 87.05 L1217.12 86.24 L1219.04 85.45 L1220.96 84.65 L1222.88 83.86 L1224.81 83.08 L1226.73 82.29 L1228.65 81.51 L1230.57 80.74 L1232.49 79.97 L1234.42 79.20 L1236.34 78.43 L1238.26 77.67 L1240.18 76.91 L1242.10 76.15 L1244.03 75.40 L1245.95 74.65 L1247.87 73.90 L1249.79 73.16 L1251.71 72.42 L1253.64 71.68 L1255.56 70.95 L1257.48 70.21 L1259.40 69.48 L1261.32 68.76 L1263.25 68.03 L1265.17 67.31 L1267.09 66.59 L1269.01 65.88 L1270.93 65.17 L1272.86 64.46 L1274.78 63.75 L1276.70 63.04 L1278.62 62.34 L1280.54 61.65 L1282.47 60.95 L1284.39 60.26 L1286.31 59.58 L1288.23 58.89 L1290.15 58.21 L1292.08 57.54 L1294.00 56.87 L1295.92 56.20 L1297.84 55.54 L1299.76 54.88 L1301.69 54.23 L1303.61 53.58 L1305.53 52.93 L1307.45 52.30 L1309.37 51.66 L1311.30 51.03 L1313.22 50.41 L1315.14 49.79 L1317.06 49.18 L1318.98 48.57 L1320.91 47.97 L1322.83 47.37 L1324.75 46.78 L1326.67 46.20 L1328.59 45.62 L1330.52 45.05 L1332.44 44.48 L1334.36 43.93 L1336.28 43.37 L1338.20 42.83 L1340.13 42.29 L1342.05 41.76 L1343.97 41.24 L1345.89 40.72 L1347.81 40.21 L1349.74 39.71 L1351.66 39.22 L1353.58 38.73 L1355.50 38.25 L1357.42 37.78 L1359.35 37.32 L1361.27 36.87 L1363.19 36.43 L1365.11 35.99 L1367.03 35.56 L1368.96 35.15 L1370.88 34.74 L1372.80 34.34 L1374.72 33.95 L1376.64 33.57 L1378.57 33.20 L1380.49 32.85 L1382.41 32.50" stroke-width="2.4" stroke-dasharray="2.5 1.2"/>
</svg></body></html>
